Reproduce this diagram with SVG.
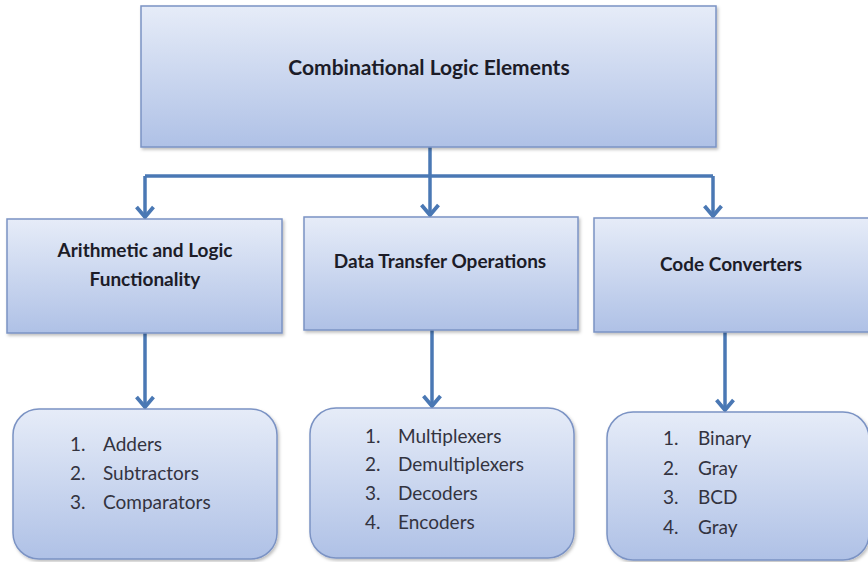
<svg xmlns="http://www.w3.org/2000/svg" width="868" height="562" viewBox="0 0 868 562">
  <style>
    .box { stroke: #7b93c4; stroke-width: 1.5; }
    .head { font-family: Lato, "Liberation Sans", Arial, sans-serif; font-weight: bold; font-size: 19px; fill: #1c1c28; text-anchor: middle; }
    .title { font-size: 21px; }
    .item { font-family: Lato, "Liberation Sans", Arial, sans-serif; font-size: 19px; fill: #33333f; }
    .wire { fill: none; stroke: #4a78b4; stroke-width: 3.5; }
  </style>
  <defs>
    <linearGradient id="fillGrad" x1="0" y1="0" x2="0" y2="1">
      <stop offset="0" stop-color="#e6ecf8"/>
      <stop offset="1" stop-color="#afc1e6"/>
    </linearGradient>
    <filter id="shadow" x="-5%" y="-5%" width="115%" height="120%">
      <feDropShadow dx="1.5" dy="2" stdDeviation="1.5" flood-color="#000" flood-opacity="0.25"/>
    </filter>
    <marker id="arrow" markerUnits="userSpaceOnUse" markerWidth="20" markerHeight="20" refX="10" refY="12" orient="auto-start-reverse" viewBox="0 0 20 20" overflow="visible">
      <path d="M1.5,2 L10,12 L18.5,2" fill="none" stroke="#4a78b4" stroke-width="3.8" stroke-linejoin="miter" transform="rotate(-90 10 12)"/>
    </marker>
  </defs>

  <rect width="868" height="562" fill="#ffffff"/>

  <!-- connectors -->
  <g id="connectors">
    <path class="wire" d="M430,147 V176"/>
    <path class="wire" d="M145,176 H713"/>
    <path class="wire" d="M145,176 V217" marker-end="url(#arrow)"/>
    <path class="wire" d="M430,176 V215" marker-end="url(#arrow)"/>
    <path class="wire" d="M713,176 V216" marker-end="url(#arrow)"/>
    <path class="wire" d="M145,333 V407" marker-end="url(#arrow)"/>
    <path class="wire" d="M432,330 V406" marker-end="url(#arrow)"/>
    <path class="wire" d="M725,332 V410" marker-end="url(#arrow)"/>
  </g>

  <!-- root -->
  <g id="root">
    <rect class="box" x="141" y="6" width="575" height="141" fill="url(#fillGrad)" filter="url(#shadow)"/>
    <text class="head title" x="429" y="75">Combinational Logic Elements</text>
  </g>

  <!-- second level -->
  <g id="arith">
    <rect class="box" x="7" y="219" width="275" height="114" fill="url(#fillGrad)" filter="url(#shadow)"/>
    <text class="head" x="145" y="257">Arithmetic and Logic</text>
    <text class="head" x="145" y="286">Functionality</text>
  </g>
  <g id="transfer">
    <rect class="box" x="304" y="217" width="274" height="113" fill="url(#fillGrad)" filter="url(#shadow)"/>
    <text class="head" x="440" y="268">Data Transfer Operations</text>
  </g>
  <g id="converters">
    <rect class="box" x="594" y="218" width="280" height="114" fill="url(#fillGrad)" filter="url(#shadow)"/>
    <text class="head" x="731" y="271">Code Converters</text>
  </g>

  <!-- third level lists -->
  <g id="arith-list">
    <rect class="box" x="13" y="409" width="264" height="150" rx="26" fill="url(#fillGrad)" filter="url(#shadow)"/>
    <text class="item" x="70" y="451">1.</text><text class="item" x="103" y="451">Adders</text>
    <text class="item" x="70" y="480">2.</text><text class="item" x="103" y="480">Subtractors</text>
    <text class="item" x="70" y="509">3.</text><text class="item" x="103" y="509">Comparators</text>
  </g>
  <g id="transfer-list">
    <rect class="box" x="310" y="408" width="264" height="150" rx="26" fill="url(#fillGrad)" filter="url(#shadow)"/>
    <text class="item" x="365" y="443">1.</text><text class="item" x="398" y="443">Multiplexers</text>
    <text class="item" x="365" y="471">2.</text><text class="item" x="398" y="471">Demultiplexers</text>
    <text class="item" x="365" y="500">3.</text><text class="item" x="398" y="500">Decoders</text>
    <text class="item" x="365" y="529">4.</text><text class="item" x="398" y="529">Encoders</text>
  </g>
  <g id="converters-list">
    <rect class="box" x="607" y="412" width="262" height="148" rx="26" fill="url(#fillGrad)" filter="url(#shadow)"/>
    <text class="item" x="663" y="445">1.</text><text class="item" x="698" y="445">Binary</text>
    <text class="item" x="663" y="475">2.</text><text class="item" x="698" y="475">Gray</text>
    <text class="item" x="663" y="504">3.</text><text class="item" x="698" y="504">BCD</text>
    <text class="item" x="663" y="534">4.</text><text class="item" x="698" y="534">Gray</text>
  </g>
</svg>
